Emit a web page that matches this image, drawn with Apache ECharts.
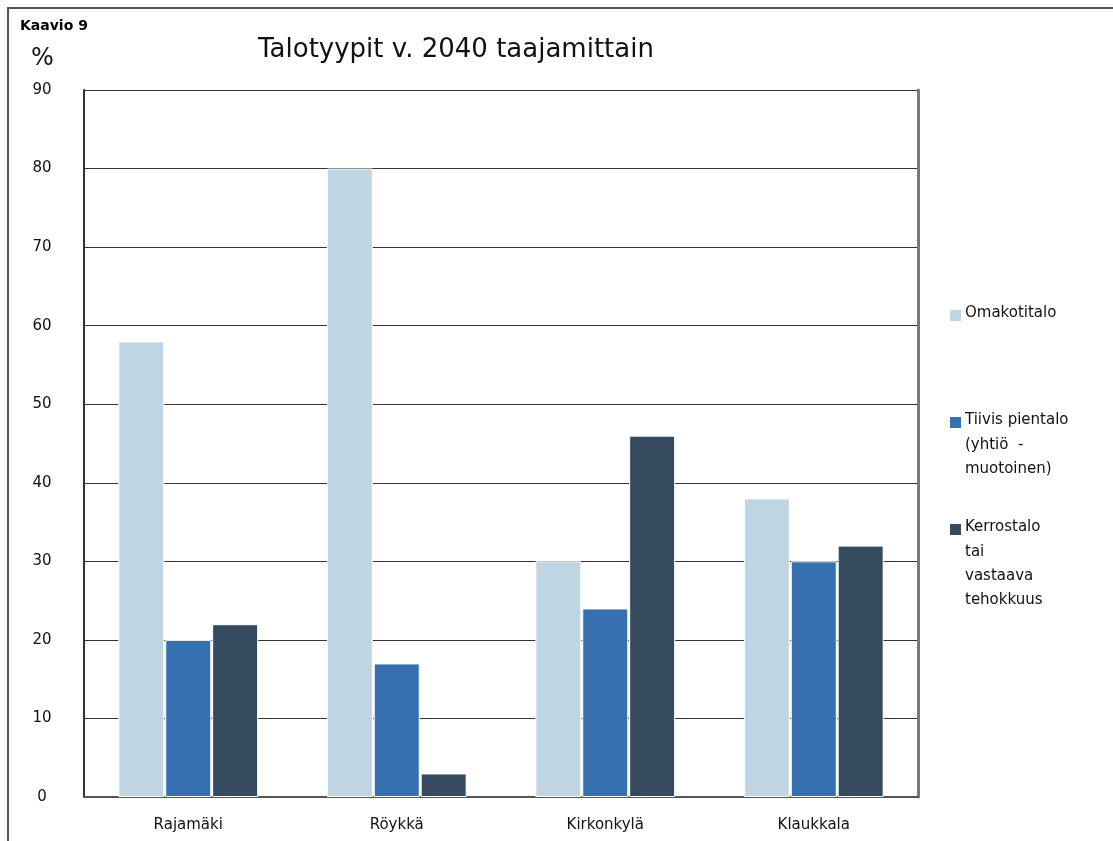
<!DOCTYPE html>
<html>
<head>
<meta charset="utf-8">
<script src="https://cdn.jsdelivr.net/npm/echarts@6/dist/echarts.min.js"></script>
<style>
  html, body { margin: 0; padding: 0; background: #fff; }
  #chart { width: 1113px; height: 841px; }
</style>
</head>
<body>
<div id="chart"></div>
<script>
const categories = ['Rajamäki', 'Röykkä', 'Kirkonkylä', 'Klaukkala'];
const seriesNames = ['Omakotitalo', 'Tiivis pientalo', 'Kerrostalo'];
const legendLines = [
  ['Omakotitalo'],
  ['Tiivis pientalo', '(yhtiö  -', 'muotoinen)'],
  ['Kerrostalo', 'tai', 'vastaava', 'tehokkuus']
];
const seriesColors = ['#c0d5e4', '#3670b1', '#364a5f'];
const omakotitalo = [58, 80, 30, 38];
const tiivisPientalo = [20, 17, 24, 30];
const kerrostalo = [22, 3, 46, 32];
const yTicks = [0, 10, 20, 30, 40, 50, 60, 70, 80, 90];

const font = '"DejaVu Sans", Verdana, sans-serif';
const chart = echarts.init(document.getElementById('chart'), null, { renderer: 'canvas' });

const values = [omakotitalo, tiivisPientalo, kerrostalo];
const legendTops = [306, 413, 520];
const lineH = 24.3;

// legend drawn by hand: the names wrap over several lines
const legendGraphics = [];
legendLines.forEach((lines, i) => {
  legendGraphics.push({
    type: 'rect',
    left: 950, top: legendTops[i] + 4,
    shape: { width: 11, height: 11 },
    style: { fill: seriesColors[i] }
  });
  lines.forEach((t, j) => {
    legendGraphics.push({
      type: 'text',
      left: 965, top: legendTops[i] + j * lineH,
      style: { text: t, font: '15px ' + font, fill: '#111' }
    });
  });
});

const option = {
  backgroundColor: '#fff',
  animation: false,
  grid: { left: 84, right: 195, top: 90, bottom: 44, containLabel: false },
  xAxis: {
    type: 'category',
    data: categories,
    axisLine: { lineStyle: { color: '#555', width: 2 } },
    axisTick: { show: false },
    axisLabel: { color: '#111', fontSize: 15, fontFamily: font, margin: 21 }
  },
  yAxis: [{
    type: 'value',
    min: yTicks[0],
    max: yTicks[yTicks.length - 1],
    interval: 10,
    axisLine: { show: true, lineStyle: { color: '#333', width: 2 } },
    axisTick: { show: false },
    axisLabel: { color: '#111', fontSize: 15, fontFamily: font, align: 'center', margin: 42 },
    splitLine: { show: true, lineStyle: { color: '#333', width: 1 } }
  }, {
    type: 'value',
    position: 'right',
    min: 0, max: 90, interval: 10,
    axisLine: { show: true, lineStyle: { color: '#7a7a7a', width: 3 } },
    axisTick: { show: false },
    axisLabel: { show: false },
    splitLine: { show: false }
  }],
  series: seriesNames.map((name, i) => ({
    name,
    type: 'bar',
    data: values[i],
    barWidth: 46,
    barGap: '2%',
    itemStyle: { color: seriesColors[i], borderColor: '#fff', borderWidth: 1 }
  })),
  graphic: [
    {
      type: 'polyline',
      shape: { points: [[8, 841], [8, 8], [1113, 8]] },
      style: { stroke: '#555', lineWidth: 2, fill: null }
    },
    {
      type: 'text', left: 20, top: 19,
      style: { text: 'Kaavio 9', font: 'bold 14px ' + font, fill: '#000' }
    },
    {
      type: 'text', left: 31, top: 47,
      style: { text: '%', font: '24px ' + font, fill: '#111' }
    },
    {
      type: 'text', left: 258, top: 37,
      style: { text: 'Talotyypit v. 2040 taajamittain', font: '26px ' + font, fill: '#111' }
    }
  ].concat(legendGraphics)
};

chart.setOption(option);
</script>
</body>
</html>
